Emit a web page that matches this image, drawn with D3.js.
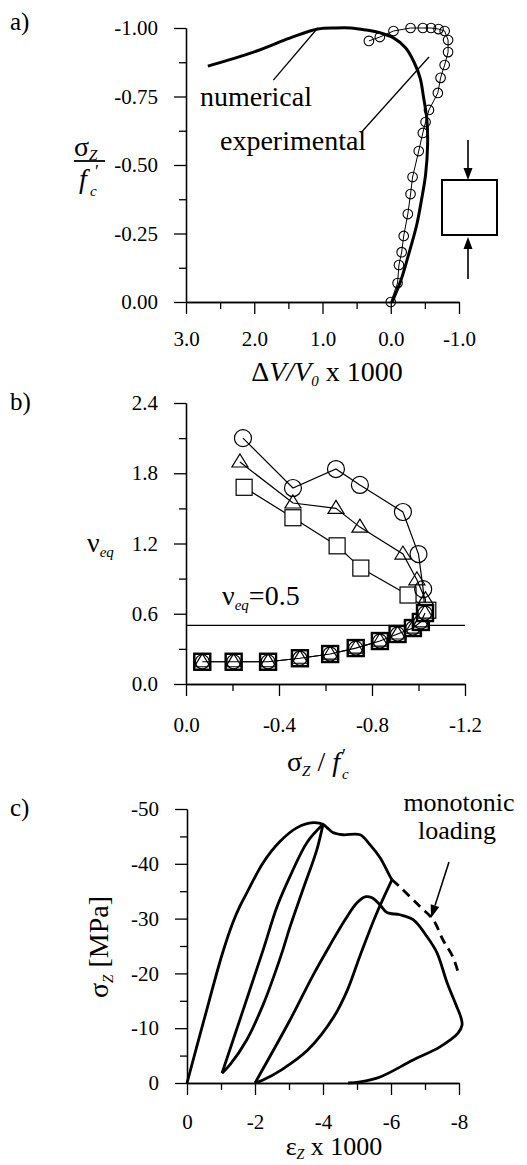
<!DOCTYPE html>
<html>
<head>
<meta charset="utf-8">
<script src="https://cdn.jsdelivr.net/npm/d3@7"></script>
<style>
body { margin: 0; background: #fff; }
svg { display: block; }
text { font-family: "Liberation Serif", "Times New Roman", serif; fill: #000; }
</style>
</head>
<body>
<svg></svg>
<script>
// ---- a) stress ratio vs volume change ----
const aXTicks = [3, 2, 1, 0, -1];
const aYTicks = [0, -0.25, -0.5, -0.75, -1];
const numX = [-0.02, -0.15, -0.26, -0.38, -0.45, -0.51, -0.54, -0.53, -0.48, -0.43, -0.34, -0.22, -0.04, 0.15, 0.37, 0.59, 0.81, 1.07, 1.47, 2.01, 2.68];
const numY = [0, -0.08, -0.172, -0.281, -0.372, -0.464, -0.573, -0.664, -0.748, -0.818, -0.876, -0.927, -0.964, -0.982, -0.993, -1.0, -1.0, -0.996, -0.964, -0.912, -0.861];
const expX = [0, -0.1, -0.12, -0.16, -0.19, -0.25, -0.29, -0.32, -0.41, -0.47, -0.51, -0.56, -0.69, -0.73, -0.79, -0.84, -0.84, -0.79, -0.7, -0.59, -0.47, -0.29, -0.04, 0.16, 0.32];
const expY = [0, -0.069, -0.135, -0.182, -0.241, -0.321, -0.394, -0.456, -0.551, -0.617, -0.657, -0.701, -0.763, -0.818, -0.865, -0.912, -0.956, -0.989, -0.996, -1.0, -1.0, -1.0, -0.989, -0.967, -0.953];

// ---- b) equivalent poisson ratio ----
const bXTicks = [0, -0.4, -0.8, -1.2];
const bYTicks = [0, 0.6, 1.2, 1.8, 2.4];
const nuLimit = 0.5;
const loadX = [-0.07, -0.205, -0.353, -0.49, -0.62, -0.73, -0.834, -0.91, -0.976, -1.01, -1.028];
const loadY = [0.19, 0.19, 0.19, 0.22, 0.256, 0.307, 0.367, 0.427, 0.478, 0.53, 0.606];
const circX = [-1.02, -1.0, -0.933, -0.748, -0.645, -0.46, -0.245];
const circY = [0.81, 1.11, 1.469, 1.70, 1.836, 1.674, 2.10];
const triX = [-1.03, -0.993, -0.933, -0.748, -0.645, -0.46, -0.232];
const triY = [0.72, 0.89, 1.11, 1.34, 1.50, 1.546, 1.896];
const sqX = [-1.04, -0.955, -0.752, -0.65, -0.46, -0.25];
const sqY = [0.63, 0.76, 0.99, 1.18, 1.42, 1.68];

// ---- c) cyclic stress-strain ----
const cXTicks = [0, -2, -4, -6, -8];
const cYTicks = [0, -10, -20, -30, -40, -50];
const envX = [0, -0.5, -1.03, -1.35, -1.55, -1.76, -2.24, -2.74, -3.24, -3.71, -4.0, -4.12, -4.29, -4.59, -5.09, -5.38, -5.68, -5.97, -6.03];
const envY = [0, -11.5, -23.4, -29.3, -32.2, -34.7, -40.2, -44.1, -46.6, -47.5, -47.2, -46.6, -45.7, -45.3, -45.3, -43.5, -41.1, -37.7, -37.1];
const monoX = [-6.03, -6.26, -6.85, -7.24, -7.53, -7.82, -7.97];
const monoY = [-37.1, -35.8, -32.2, -29.8, -26.1, -23.0, -20.3];
const un1X = [-4.0, -3.53, -3.03, -2.65, -2.24, -1.65, -1.03];
const un1Y = [-47.2, -43.9, -37.7, -32.2, -24.3, -13.3, -1.8];
const re1X = [-1.03, -1.26, -1.76, -2.24, -2.59, -2.82, -3.03, -3.41, -3.82, -4.0];
const re1Y = [-1.8, -3.3, -7.9, -14.3, -20.1, -24.3, -28.5, -35.3, -42.6, -47.2];
const un2X = [-6.03, -5.56, -5.1, -4.72, -4.32, -3.55, -2.78, -2.22, -2.0];
const un2Y = [-37.1, -30.7, -23.4, -17.0, -12.1, -6.0, -2.4, -0.5, 0];
const re2X = [-2.0, -3.03, -3.71, -4.21, -4.65, -5.0, -5.26, -5.44, -5.68, -5.88, -6.26, -6.65, -7.06, -7.35, -7.65, -7.91, -8.06, -8.09, -7.97, -7.44, -6.65, -5.68, -5.09, -4.74];
const re2Y = [0, -11.5, -19.7, -25.2, -29.8, -32.9, -34.0, -33.8, -32.5, -31.1, -30.7, -29.8, -26.7, -23.8, -18.3, -14.3, -11.9, -10.6, -9.1, -6.6, -4.2, -1.1, -0.2, 0];

const width = 527, height = 1165;
const svg = d3.select("svg").attr("width", width).attr("height", height);

const zip = (xs, ys) => xs.map((x, i) => [x, ys[i]]);

// axes with major (labelled) and minor ticks
function addAxes(xs, ys, xMaj, xMin, xFmt, xPad, yMaj, yMin, yFmt) {
    const yBase = ys.range()[0], xBase = xs.range()[0];
    const g = svg.append("g");
    g.append("g").attr("transform", `translate(0,${yBase})`)
        .call(d3.axisBottom(xs).tickValues(xMin).tickSize(7).tickFormat("").tickSizeOuter(0));
    g.append("g").attr("transform", `translate(0,${yBase})`)
        .call(d3.axisBottom(xs).tickValues(xMaj).tickSize(12).tickPadding(xPad).tickFormat(xFmt).tickSizeOuter(0));
    g.append("g").attr("transform", `translate(${xBase},0)`)
        .call(d3.axisLeft(ys).tickValues(yMin).tickSize(7).tickFormat("").tickSizeOuter(0));
    g.append("g").attr("transform", `translate(${xBase},0)`)
        .call(d3.axisLeft(ys).tickValues(yMaj).tickSize(12).tickPadding(16).tickFormat(yFmt).tickSizeOuter(0));
    g.selectAll(".domain, .tick line").attr("stroke", "#000").attr("stroke-width", 1.3);
    g.selectAll("text").attr("font-family", null).attr("font-size", 21);
    g.selectAll("g").attr("font-family", null).attr("font-size", null);
}

function arrow(x1, y1, x2, y2, len, w) {
    const a = Math.atan2(y2 - y1, x2 - x1);
    const bx = x2 - len * Math.cos(a), by = y2 - len * Math.sin(a);
    svg.append("line").attr("x1", x1).attr("y1", y1).attr("x2", bx).attr("y2", by)
        .attr("stroke", "#000").attr("stroke-width", 1.6);
    const px = -Math.sin(a) * w / 2, py = Math.cos(a) * w / 2;
    svg.append("path").attr("d", `M${x2},${y2}L${bx + px},${by + py}L${bx - px},${by - py}Z`).attr("fill", "#000");
}

function sub(t, s, size, dy) {
    t.append("tspan").attr("font-size", size).attr("font-style", "italic").attr("dy", dy).text(s);
}

// ================= a) =================
const xA = d3.scaleLinear().domain([3, -1]).range([186, 459]);
const yA = d3.scaleLinear().domain([0, -1]).range([302, 28]);
addAxes(xA, yA, aXTicks, d3.range(2.5, -1, -1), d => d.toFixed(1), 17,
    aYTicks, d3.range(-0.125, -1, -0.25), d => d.toFixed(2));

const lineA = d3.line().x(d => xA(d[0])).y(d => yA(d[1]));
svg.append("path").attr("d", lineA(zip(expX, expY)))
    .attr("fill", "none").attr("stroke", "#000").attr("stroke-width", 1);
svg.append("g").selectAll("circle").data(zip(expX, expY)).join("circle")
    .attr("cx", d => xA(d[0])).attr("cy", d => yA(d[1])).attr("r", 4.8)
    .attr("fill", "none").attr("stroke", "#000").attr("stroke-width", 1.1);
svg.append("path").attr("d", lineA.curve(d3.curveCatmullRom)(zip(numX, numY)))
    .attr("fill", "none").attr("stroke", "#000").attr("stroke-width", 3);

// annotations
svg.append("line").attr("x1", xA(1.72)).attr("y1", yA(-0.81)).attr("x2", xA(1.07)).attr("y2", yA(-1.0))
    .attr("stroke", "#000").attr("stroke-width", 1.3);
svg.append("line").attr("x1", xA(0.44)).attr("y1", yA(-0.617)).attr("x2", xA(-0.56)).attr("y2", yA(-0.894))
    .attr("stroke", "#000").attr("stroke-width", 1.3);
svg.append("text").attr("x", 200).attr("y", 106).attr("font-size", 28).text("numerical");
svg.append("text").attr("x", 220).attr("y", 150).attr("font-size", 28).text("experimental");

// specimen sketch
svg.append("rect").attr("x", 442).attr("y", 180).attr("width", 55).attr("height", 55)
    .attr("fill", "none").attr("stroke", "#000").attr("stroke-width", 2);
arrow(468, 140, 468, 180, 12, 9);
arrow(468, 279, 468, 237, 12, 9);

svg.append("text").attr("x", 10).attr("y", 30).attr("font-size", 25).text("a)");
const ayt = svg.append("text").attr("x", 74).attr("y", 156).attr("font-size", 28);
ayt.append("tspan").text("σ");
sub(ayt, "Z", 15, 4);
svg.append("line").attr("x1", 74).attr("x2", 105).attr("y1", 161).attr("y2", 161)
    .attr("stroke", "#000").attr("stroke-width", 1.8);
svg.append("text").attr("x", 79).attr("y", 188).attr("font-size", 28).attr("font-style", "italic").text("f");
svg.append("text").attr("x", 95).attr("y", 178).attr("font-size", 18).text("′");
svg.append("text").attr("x", 90).attr("y", 196).attr("font-size", 15).attr("font-style", "italic").text("c");

const axt = svg.append("text").attr("x", 327).attr("y", 381).attr("font-size", 28).attr("text-anchor", "middle");
axt.append("tspan").text("Δ");
axt.append("tspan").attr("font-style", "italic").text("V/V");
sub(axt, "0", 15, 5);
axt.append("tspan").attr("dy", -5).text("  x 1000");

// ================= b) =================
const xB = d3.scaleLinear().domain([0, -1.2]).range([186, 465]);
const yB = d3.scaleLinear().domain([0, 2.4]).range([684, 403]);
addAxes(xB, yB, bXTicks, d3.range(-0.2, -1.2, -0.4), d => d.toFixed(1), 21,
    bYTicks, d3.range(0.3, 2.4, 0.6), d => d.toFixed(1));

svg.append("line").attr("x1", xB(0)).attr("x2", xB(-1.2)).attr("y1", yB(nuLimit)).attr("y2", yB(nuLimit))
    .attr("stroke", "#000").attr("stroke-width", 1.2);
const nl = svg.append("text").attr("x", 222).attr("y", 605).attr("font-size", 28);
nl.append("tspan").text("ν");
sub(nl, "eq", 15, 5);
nl.append("tspan").attr("dy", -5).text("=0.5");

const lineB = d3.line().x(d => xB(d[0])).y(d => yB(d[1]));
const thin = p => p.attr("fill", "none").attr("stroke", "#000").attr("stroke-width", 1.2);
const load = zip(loadX, loadY);
const lastLoad = load[load.length - 1];
thin(svg.append("path").attr("d", lineB(load)));
[[circX, circY], [triX, triY], [sqX, sqY]].forEach(([xs, ys]) => {
    thin(svg.append("path").attr("d", lineB([lastLoad].concat(zip(xs, ys)))));
});

function sq(g, d, sw) {
    g.append("rect").attr("x", xB(d[0]) - 8).attr("y", yB(d[1]) - 8).attr("width", 16).attr("height", 16)
        .attr("fill", "#fff").attr("stroke", "#000").attr("stroke-width", sw);
}
function circ(g, d, r, fill) {
    g.append("circle").attr("cx", xB(d[0])).attr("cy", yB(d[1])).attr("r", r)
        .attr("fill", fill).attr("stroke", "#000").attr("stroke-width", 1.2);
}
function tri(g, d, fill) {
    const x = xB(d[0]), y = yB(d[1]);
    g.append("path").attr("d", `M${x},${y - 8}L${x + 8},${y + 5}L${x - 8},${y + 5}Z`)
        .attr("fill", fill).attr("stroke", "#000").attr("stroke-width", 1.2);
}
const gb = svg.append("g");
zip(sqX, sqY).forEach(d => sq(gb, d, 1.2));
zip(triX, triY).forEach(d => tri(gb, d, "none"));
zip(circX, circY).forEach(d => circ(gb, d, 8.5, "none"));
load.forEach(d => { sq(gb, d, 2.4); circ(gb, d, 7, "none"); tri(gb, d, "none"); });
thin(svg.append("path").attr("d", lineB(load)));

svg.append("text").attr("x", 10).attr("y", 410).attr("font-size", 25).text("b)");
const byt = svg.append("text").attr("x", 87).attr("y", 552).attr("font-size", 28);
byt.append("tspan").text("ν");
sub(byt, "eq", 15, 5);
const bxt = svg.append("text").attr("x", 287).attr("y", 771).attr("font-size", 28);
bxt.append("tspan").text("σ");
sub(bxt, "Z", 15, 5);
bxt.append("tspan").attr("dy", -5).text(" / ");
bxt.append("tspan").attr("font-style", "italic").text("f");
bxt.append("tspan").attr("font-size", 18).attr("dx", 2).attr("dy", -9).text("′");
bxt.append("tspan").attr("font-size", 15).attr("font-style", "italic").attr("dx", -4).attr("dy", 17).text("c");

// ================= c) =================
const xC = d3.scaleLinear().domain([0, -8]).range([187, 459]);
const yC = d3.scaleLinear().domain([0, -50]).range([1083, 809]);
addAxes(xC, yC, cXTicks, d3.range(-1, -8, -2), d => String(d), 19,
    cYTicks, d3.range(-5, -50, -10), d => String(d));

const lineC = d3.line().x(d => xC(d[0])).y(d => yC(d[1])).curve(d3.curveCatmullRom);
const thick = p => p.attr("fill", "none").attr("stroke", "#000").attr("stroke-width", 2.8).attr("stroke-linejoin", "round");
thick(svg.append("path").attr("d", lineC(zip(envX, envY))));
thick(svg.append("path").attr("d", lineC(zip(un1X, un1Y))));
thick(svg.append("path").attr("d", lineC(zip(re1X, re1Y))));
thick(svg.append("path").attr("d", lineC(zip(un2X, un2Y))));
thick(svg.append("path").attr("d", lineC(zip(re2X, re2Y))));
thick(svg.append("path").attr("d", lineC(zip(monoX, monoY)))).attr("stroke-dasharray", "9,6");

svg.append("text").attr("x", 459).attr("y", 811).attr("font-size", 26).attr("text-anchor", "middle").text("monotonic");
svg.append("text").attr("x", 457).attr("y", 839).attr("font-size", 26).attr("text-anchor", "middle").text("loading");
arrow(449, 862, 431, 918, 13, 9);

svg.append("text").attr("x", 10).attr("y", 816).attr("font-size", 25).text("c)");
const cyt = svg.append("text").attr("transform", "translate(108,947) rotate(-90)")
    .attr("font-size", 28).attr("text-anchor", "middle");
cyt.append("tspan").text("σ");
sub(cyt, "Z", 15, 5);
cyt.append("tspan").attr("dy", -5).text(" [MPa]");
const cxt = svg.append("text").attr("x", 334).attr("y", 1155).attr("font-size", 26).attr("text-anchor", "middle");
cxt.append("tspan").text("ε");
sub(cxt, "Z", 14, 4);
cxt.append("tspan").attr("dy", -4).text(" x 1000");
</script>
</body>
</html>
